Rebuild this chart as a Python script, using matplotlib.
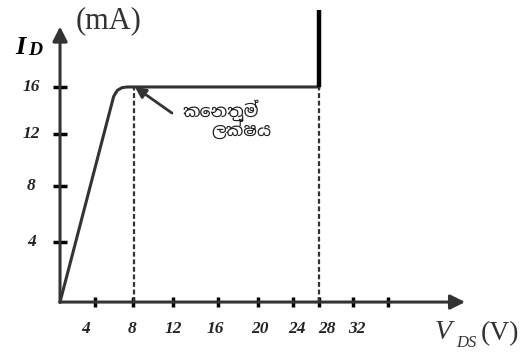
import matplotlib
matplotlib.use('Agg')
import matplotlib.pyplot as plt

# characteristic curve (V_DS in V, I_D in mA)
vds = [0, 5.8, 6.2, 6.7, 7.3, 28]
i_d = [0, 15.3, 15.75, 15.95, 16, 16]
breakdown_v = 28
breakdown_top = 21.7
knee_v = 8
sat_current = 16

# schematic (non-uniform) axis ticks
xtick_labels = ['4', '8', '12', '16', '20', '24', '28', '32', '']
xtick_pos = [3.8, 7.9, 12.2, 17.1, 21.4, 25.2, 28.0, 31.7, 35.5]
xlabel_pos = [2.8, 7.8, 12.2, 16.8, 21.6, 25.6, 28.9, 32.1, 35.5]
ytick_labels = ['4', '8', '12', '16']
ytick_pos = [4.46, 8.63, 12.5, 16.0]

knee_text = ['කෙනතුම්', 'ලක්ෂය']

axis_col = '#333333'
serif = 'Liberation Serif'
sinhala = ['Noto Sans Sinhala', 'DejaVu Sans']

fig = plt.figure(figsize=(5.22, 3.53), dpi=100)
ax = fig.add_axes([0, 0, 1, 1])
ax.set_xlim(-6.49, 49.95)
ax.set_ylim(-3.79, 22.47)
ax.axis('off')

# axes with arrow heads
ax.annotate('', xy=(43.8, 0), xytext=(0, 0),
            arrowprops=dict(arrowstyle='-|>', color=axis_col, lw=2.2,
                            mutation_scale=22, shrinkA=0, shrinkB=0))
ax.annotate('', xy=(0, 20.5), xytext=(0, 0),
            arrowprops=dict(arrowstyle='-|>', color=axis_col, lw=2.2,
                            mutation_scale=22, shrinkA=0, shrinkB=0))

# ticks
for xp, lab, lp in zip(xtick_pos, xtick_labels, xlabel_pos):
    ax.plot([xp, xp], [-0.4, 0.4], color='black', lw=2.5, solid_capstyle='butt')
    ax.text(lp, -2.0, lab, ha='center', va='center', fontsize=12.5,
            family=serif, style='italic', weight='bold', color='#222222')
for yp, lab in zip(ytick_pos, ytick_labels):
    ax.plot([-0.8, 0.8], [yp, yp], color='black', lw=2.5, solid_capstyle='butt')
    ax.text(-3.1, yp, lab, ha='center', va='center', fontsize=12.5,
            family=serif, style='italic', weight='bold', color='#222222')

# curve
ax.plot(vds, i_d, color=axis_col, lw=2.2, solid_joinstyle='round')
ax.plot([breakdown_v, breakdown_v], [sat_current, breakdown_top],
        color='black', lw=3.2, solid_capstyle='butt')

# dashed guides
for xv in (knee_v, breakdown_v):
    ax.plot([xv, xv], [0, sat_current], color=axis_col, lw=1.6,
            linestyle=(0, (2.2, 1.2)))

# knee annotation
ax.annotate('', xy=(8.1, 16.0), xytext=(12.1, 14.06),
            arrowprops=dict(arrowstyle='-|>', color=axis_col, lw=2,
                            mutation_scale=16, shrinkA=0, shrinkB=0))
ax.text(13.3, 14.25, knee_text[0], ha='left', va='center', fontsize=12.5,
        family=sinhala, weight='bold', color='#222222')
ax.text(16.4, 12.8, knee_text[1], ha='left', va='center', fontsize=12.5,
        family=sinhala, weight='bold', color='#222222')

# axis titles
ax.text(5.3, 20.95, '(mA)', ha='center', va='center', fontsize=22,
        family=serif, color='#333333')
ax.text(-4.3, 18.9, 'I', ha='center', va='center', fontsize=19,
        family=serif, style='italic', weight='bold')
ax.text(-2.7, 18.7, 'D', ha='center', va='center', fontsize=14,
        family=serif, style='italic', weight='bold')
ax.text(41.4, -2.3, 'V', ha='center', va='center', fontsize=20,
        family=serif, style='italic', color='#333333')
ax.text(43.9, -3.05, 'DS', ha='center', va='center', fontsize=12,
        family=serif, style='italic', color='#333333')
ax.text(47.6, -2.35, '(V)', ha='center', va='center', fontsize=20,
        family=serif, color='#333333')

fig.savefig('out.png', dpi=100)
